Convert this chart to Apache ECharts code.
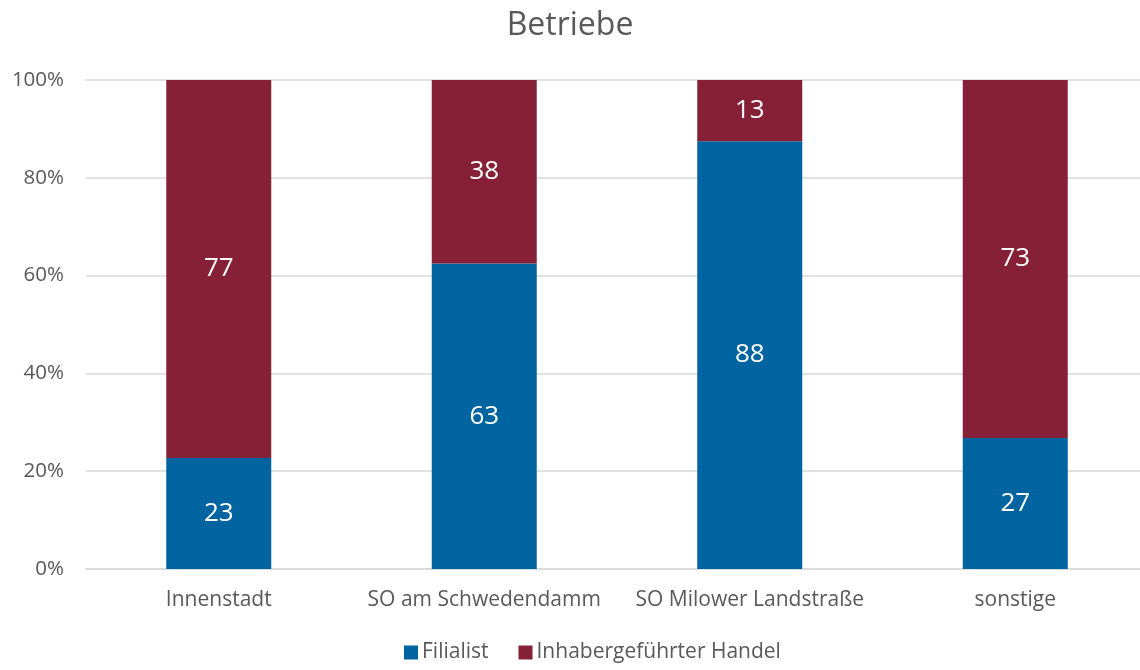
<!DOCTYPE html>
<html>
<head>
<meta charset="utf-8">
<script src="https://cdn.jsdelivr.net/npm/echarts@6/dist/echarts.min.js"></script>
<style>
  html, body { margin: 0; padding: 0; background: #fff; }
  #chart-container { width: 1140px; height: 670px; }
</style>
</head>
<body>
<div id="chart-container"></div>
<script>
// Standorte und Anteile (in %)
var categories = ["Innenstadt", "SO am Schwedendamm", "SO Milower Landstraße", "sonstige"];
var seriesNames = ["Filialist", "Inhabergeführter Handel"];
var filialist = [22.7, 62.5, 87.5, 26.8];
var inhaber = [77.3, 37.5, 12.5, 73.2];
var yTicks = [0, 20, 40, 60, 80, 100];

var dom = document.getElementById("chart-container");
var myChart = echarts.init(dom, null, { renderer: "canvas" });

var font = "'Open Sans', 'Noto Sans', sans-serif";
var labelStyle = {
  show: true,
  position: "inside",
  color: "#ffffff",
  fontSize: 26,
  fontFamily: font,
  formatter: function (p) { return Math.round(p.value); }
};

var option = {
  backgroundColor: "#ffffff",
  color: ["#0064A1", "#862036"],
  title: {
    text: "Betriebe",
    left: "center",
    top: 5,
    textStyle: { color: "#595959", fontSize: 32, fontWeight: "normal", fontFamily: font }
  },
  legend: {
    bottom: 2,
    left: 399,
    itemWidth: 14,
    itemHeight: 14,
    itemGap: 30,
    icon: "rect",
    textStyle: { color: "#595959", fontSize: 21, fontFamily: font, padding: [0, 0, 0, -1] },
    data: seriesNames
  },
  grid: { left: 86, top: 80, width: 1062, height: 489, containLabel: false, outerBoundsMode: "none" },
  xAxis: {
    type: "category",
    data: categories,
    axisLine: { lineStyle: { color: "#d9d9d9", width: 1.5 } },
    axisTick: { show: false },
    axisLabel: { color: "#595959", fontSize: 21, fontFamily: font, margin: 21, interval: 0 }
  },
  yAxis: {
    type: "value",
    min: 0,
    max: 100,
    interval: 20,
    axisLine: { show: false },
    axisTick: { show: false },
    splitLine: { lineStyle: { color: "#d9d9d9", width: 1.5 } },
    axisLabel: {
      color: "#595959", fontSize: 20.5, fontFamily: font, margin: 22,
      formatter: function (v) { return yTicks.indexOf(v) >= 0 ? v + "%" : ""; }
    }
  },
  series: [
    {
      name: seriesNames[0],
      type: "bar",
      stack: "total",
      barWidth: 105,
      data: filialist,
      label: labelStyle
    },
    {
      name: seriesNames[1],
      type: "bar",
      stack: "total",
      barWidth: 105,
      data: inhaber,
      label: labelStyle
    }
  ]
};

myChart.setOption(option);
window.addEventListener("resize", myChart.resize);
</script>
</body>
</html>
